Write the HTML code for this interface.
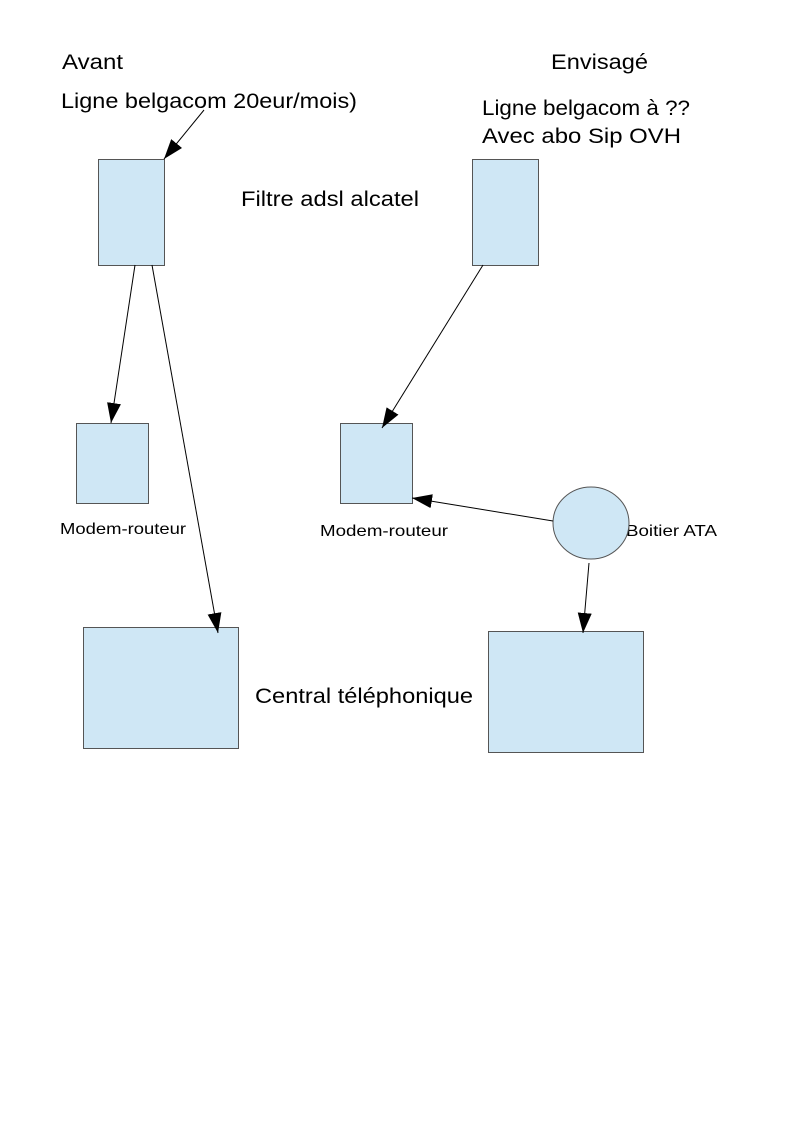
<!DOCTYPE html>
<html><head><meta charset="utf-8"><style>body{margin:0;background:#fff}svg{display:block}text{font-family:"Liberation Sans",sans-serif;fill:#000}</style></head>
<body>
<svg width="794" height="1123" viewBox="0 0 794 1123">
<defs>
<marker id="b" viewBox="0 0 20 14" markerWidth="20" markerHeight="14" refX="20" refY="7" orient="auto" markerUnits="userSpaceOnUse"><path d="M0,0 L20,7 L0,14 z" fill="#000"/></marker></defs>
<g font-size="21">
<text x="62" y="69" textLength="61" lengthAdjust="spacingAndGlyphs">Avant</text>
<text x="551" y="69" textLength="97" lengthAdjust="spacingAndGlyphs">Envisagé</text>
<text x="61" y="108" textLength="296" lengthAdjust="spacingAndGlyphs">Ligne belgacom 20eur/mois)</text>
<text x="482" y="115" textLength="208" lengthAdjust="spacingAndGlyphs">Ligne belgacom à ??</text>
<text x="482" y="143" textLength="199" lengthAdjust="spacingAndGlyphs">Avec abo Sip OVH</text>
<text x="241" y="206" textLength="178" lengthAdjust="spacingAndGlyphs">Filtre adsl alcatel</text>
<text x="255" y="703" textLength="218" lengthAdjust="spacingAndGlyphs">Central téléphonique</text>
</g>
<g font-size="16">
<text x="60" y="534" textLength="126" lengthAdjust="spacingAndGlyphs">Modem-routeur</text>
<text x="320" y="536" textLength="128" lengthAdjust="spacingAndGlyphs">Modem-routeur</text>
<text x="626" y="536" textLength="91" lengthAdjust="spacingAndGlyphs">Boitier ATA</text>
</g>
<g fill="#cfe7f5" stroke="#555" stroke-width="1">
<rect x="98.5" y="159.5" width="66" height="106"/>
<rect x="472.5" y="159.5" width="66" height="106"/>
<rect x="76.5" y="423.5" width="72" height="80"/>
<rect x="340.5" y="423.5" width="72" height="80"/>
<ellipse cx="591" cy="523" rx="38" ry="36"/>
<rect x="83.5" y="627.5" width="155" height="121"/>
<rect x="488.5" y="631.5" width="155" height="121"/>
</g>
<g stroke="#000" stroke-width="1" marker-end="url(#b)">
<line x1="204" y1="110" x2="164" y2="159"/>
<line x1="135" y1="265" x2="111" y2="423"/>
<line x1="152" y1="265" x2="218" y2="633"/>
<line x1="483" y1="265" x2="382" y2="428"/>
<line x1="553" y1="521" x2="412" y2="498"/>
<line x1="589" y1="563" x2="583" y2="633"/>
</g>
</svg>
</body></html>
